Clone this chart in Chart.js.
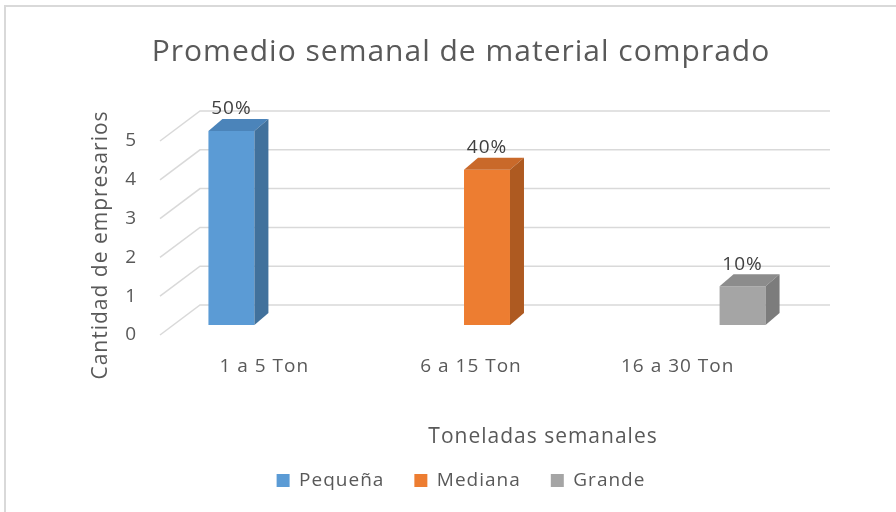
<!DOCTYPE html>
<html>
<head>
<meta charset="utf-8">
<script src="https://cdn.jsdelivr.net/npm/chart.js@4"></script>
<style>
  html, body { margin: 0; padding: 0; background: #fff; }
  #caja { width: 896px; height: 512px; }
</style>
</head>
<body>
<div id="caja"><canvas id="grafico" width="896" height="512"></canvas></div>
<script>
const categorias = ['1 a 5 Ton', '6 a 15 Ton', '16 a 30 Ton'];
const nombresSeries = ['Pequeña', 'Mediana', 'Grande'];
const pequena = [5, null, null];
const mediana = [null, 4, null];
const grande = [null, null, 1];
const porcentajes = ['50%', '40%', '10%'];
const marcasY = [0, 1, 2, 3, 4, 5];

const colores = ['#5B9BD5', '#ED7D31', '#A5A5A5'];
const coloresLado = ['#41719C', '#AE5A21', '#7C7C7C'];
const coloresTecho = ['#4B84BA', '#C9692A', '#8C8C8C'];
const fuente = "'Open Sans', sans-serif";
const gris = '#595959';

// profundidad de las barras y del suelo (efecto 3D)
const profX = 14, profY = 12;
const frenteX = -17, frenteY = 10, fondoX = 23, fondoY = -20;

const efecto3d = {
    id: 'efecto3d',
    // el texto original es algo mas ancho que Open Sans
    beforeUpdate(chart) {
        chart.ctx.letterSpacing = '1px';
    },
    beforeDraw(chart) {
        const ctx = chart.ctx;
        ctx.save();
        ctx.fillStyle = '#fff';
        ctx.fillRect(0, 0, chart.width, chart.height);
        ctx.strokeStyle = '#D9D9D9';
        ctx.lineWidth = 2;
        ctx.beginPath();
        ctx.moveTo(5, 512);
        ctx.lineTo(5, 6);
        ctx.lineTo(896, 6);
        ctx.stroke();
        ctx.restore();
        ctx.letterSpacing = '1px';
    },
    beforeDatasetsDraw(chart) {
        const ctx = chart.ctx;
        const y = chart.scales.y;
        const area = chart.chartArea;
        ctx.save();
        ctx.strokeStyle = '#D9D9D9';
        ctx.lineWidth = 1.5;
        marcasY.forEach(v => {
            const py = y.getPixelForValue(v);
            ctx.beginPath();
            ctx.moveTo(area.left + frenteX, py + frenteY);
            ctx.lineTo(area.left + fondoX, py + fondoY);
            ctx.lineTo(area.right + 33, py + fondoY);
            ctx.stroke();
        });
        ctx.restore();
    },
    afterDatasetsDraw(chart) {
        const ctx = chart.ctx;
        ctx.save();
        chart.data.datasets.forEach((ds, i) => {
            const meta = chart.getDatasetMeta(i);
            meta.data.forEach((bar, j) => {
                if (ds.data[j] === null) return;
                const izq = bar.x - bar.width / 2;
                const der = bar.x + bar.width / 2;
                const arriba = bar.y;
                const abajo = bar.base;
                ctx.fillStyle = coloresTecho[i];
                ctx.beginPath();
                ctx.moveTo(izq, arriba);
                ctx.lineTo(izq + profX, arriba - profY);
                ctx.lineTo(der + profX, arriba - profY);
                ctx.lineTo(der, arriba);
                ctx.closePath();
                ctx.fill();
                ctx.fillStyle = coloresLado[i];
                ctx.beginPath();
                ctx.moveTo(der, arriba);
                ctx.lineTo(der + profX, arriba - profY);
                ctx.lineTo(der + profX, abajo - profY);
                ctx.lineTo(der, abajo);
                ctx.closePath();
                ctx.fill();
                ctx.fillStyle = '#404040';
                ctx.font = '19px ' + fuente;
                ctx.textAlign = 'center';
                ctx.textBaseline = 'middle';
                ctx.fillText(porcentajes[j], bar.x, arriba - 22);
            });
        });
        // titulos de los ejes
        ctx.fillStyle = gris;
        ctx.font = '21px ' + fuente;
        ctx.textAlign = 'center';
        ctx.textBaseline = 'middle';
        ctx.fillText('Toneladas semanales', 543, 437);
        ctx.translate(101, 245);
        ctx.rotate(-Math.PI / 2);
        ctx.fillText('Cantidad de empresarios', 0, 0);
        ctx.restore();
    }
};

new Chart(document.getElementById('grafico'), {
    type: 'bar',
    data: {
        labels: categorias,
        datasets: [
            { label: nombresSeries[0], data: pequena, backgroundColor: colores[0] },
            { label: nombresSeries[1], data: mediana, backgroundColor: colores[1] },
            { label: nombresSeries[2], data: grande, backgroundColor: colores[2] }
        ]
    },
    options: {
        responsive: false,
        animation: false,
        categoryPercentage: 0.71,
        barPercentage: 0.94,
        layout: { padding: { left: 125, right: 99, top: 0, bottom: 12 } },
        plugins: {
            title: {
                display: true,
                text: 'Promedio semanal de material comprado',
                color: gris,
                font: { family: fuente, size: 30, weight: 'normal' },
                padding: { top: 34, bottom: 61 }
            },
            legend: {
                position: 'bottom',
                labels: {
                    color: gris,
                    font: { family: fuente, size: 19 },
                    boxWidth: 13,
                    boxHeight: 13,
                    padding: 30
                }
            },
            tooltip: { enabled: false }
        },
        scales: {
            x: {
                grid: { display: false, drawTicks: false },
                border: { display: false },
                ticks: { color: gris, font: { family: fuente, size: 19 }, padding: 30, labelOffset: -16 },
                afterFit(s) { s.height = 116; }
            },
            y: {
                min: 0,
                max: 5,
                grid: { display: false, drawTicks: false },
                border: { display: false },
                ticks: { stepSize: 1, color: gris, font: { family: fuente, size: 19 }, padding: 40, labelOffset: 10 },
                afterFit(s) { s.width = 52; }
            }
        }
    },
    plugins: [efecto3d]
});
</script>
</body>
</html>
